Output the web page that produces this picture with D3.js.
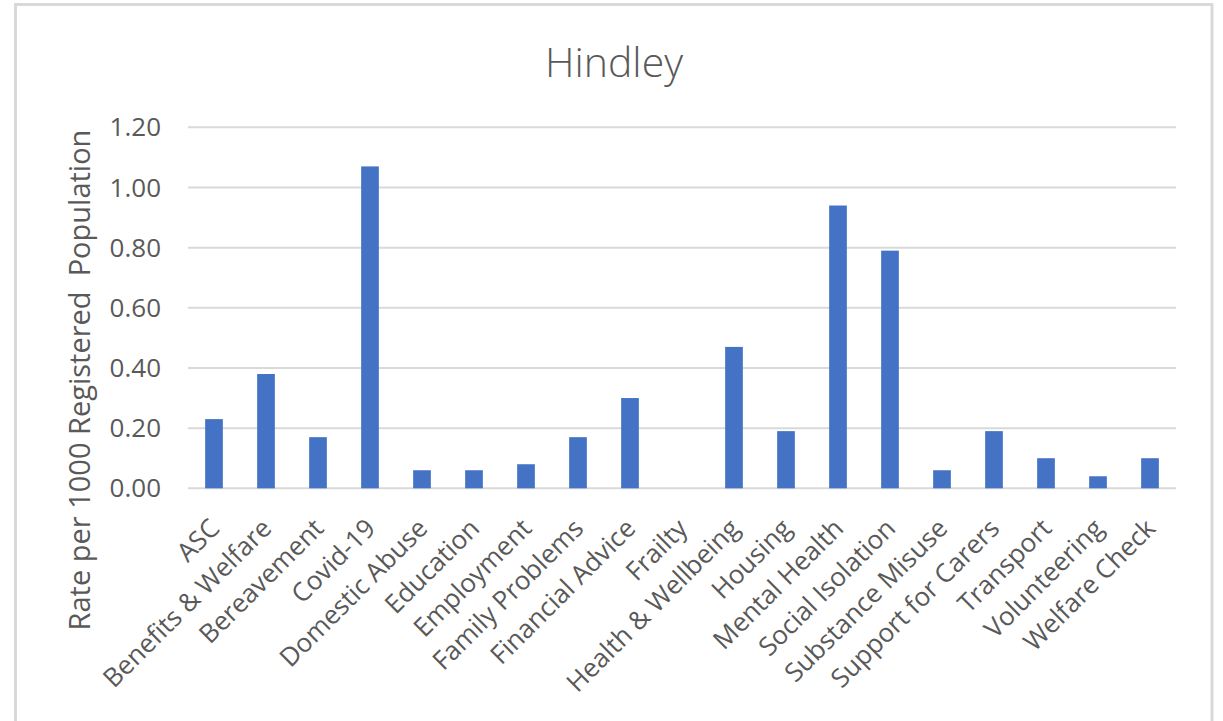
<!DOCTYPE html>
<html>
<head>
<meta charset="utf-8">
<script src="https://cdn.jsdelivr.net/npm/d3@7"></script>
<style>
  html, body { margin: 0; padding: 0; background: #fff; }
  svg { display: block; }
  text { font-family: "Open Sans", sans-serif; fill: #595959; }
</style>
</head>
<body>
<svg id="chart" width="1223" height="721"></svg>
<script>
const categories = ["ASC", "Benefits & Welfare", "Bereavement", "Covid-19", "Domestic Abuse",
  "Education", "Employment", "Family Problems", "Financial Advice", "Frailty",
  "Health & Wellbeing", "Housing", "Mental Health", "Social Isolation", "Substance Misuse",
  "Support for Carers", "Transport", "Volunteering", "Welfare Check"];
const values = [0.23, 0.38, 0.17, 1.07, 0.06,
  0.06, 0.08, 0.17, 0.30, 0.00,
  0.47, 0.19, 0.94, 0.79, 0.06,
  0.19, 0.10, 0.04, 0.10];
const yTicks = [0, 0.2, 0.4, 0.6, 0.8, 1.0, 1.2];
const title = "Hindley";
const yTitle = "Rate per 1000 Registered  Population";

const svg = d3.select("#chart");

// chart border (Excel frame)
svg.append("rect")
  .attr("x", 15.5).attr("y", 4.5)
  .attr("width", 1196.5).attr("height", 740)
  .attr("fill", "none").attr("stroke", "#d9d9d9").attr("stroke-width", 3);

const x = d3.scaleBand().domain(categories).range([188, 1176])
  .paddingInner(0.66).paddingOuter(0.33);
const y = d3.scaleLinear().domain([0, 1.2]).range([488.3, 127.3]);

// gridlines
svg.append("g").selectAll("line").data(yTicks).join("line")
  .attr("x1", 188).attr("x2", 1176)
  .attr("y1", d => y(d)).attr("y2", d => y(d))
  .attr("stroke", "#d9d9d9").attr("stroke-width", 2);

// y tick labels
svg.append("g").selectAll("text").data(yTicks).join("text")
  .attr("x", 161).attr("y", d => y(d))
  .attr("dy", "0.35em")
  .attr("text-anchor", "end")
  .style("font-size", "26px")
  .text(d => d3.format(".2f")(d));

// bars
svg.append("g").selectAll("rect").data(values).join("rect")
  .attr("x", (d, i) => x(categories[i]))
  .attr("width", x.bandwidth())
  .attr("y", d => y(d))
  .attr("height", d => y(0) - y(d))
  .attr("fill", "#4472c4");

// x labels
svg.append("g").selectAll("text").data(categories).join("text")
  .attr("transform", d => `translate(${x(d) + x.bandwidth() / 2 + 7},530) rotate(-45)`)
  .attr("text-anchor", "end")
  .style("font-size", "26px")
  .text(d => d);

// title
svg.append("text")
  .attr("x", 614).attr("y", 77)
  .attr("text-anchor", "middle")
  .style("font-size", "41px").style("font-weight", 300)
  .text(title);

// y axis title
svg.append("text")
  .attr("transform", "translate(90,380) rotate(-90)")
  .attr("text-anchor", "middle")
  .style("font-size", "29px")
  .attr("xml:space", "preserve")
  .text(yTitle);
</script>
</body>
</html>
